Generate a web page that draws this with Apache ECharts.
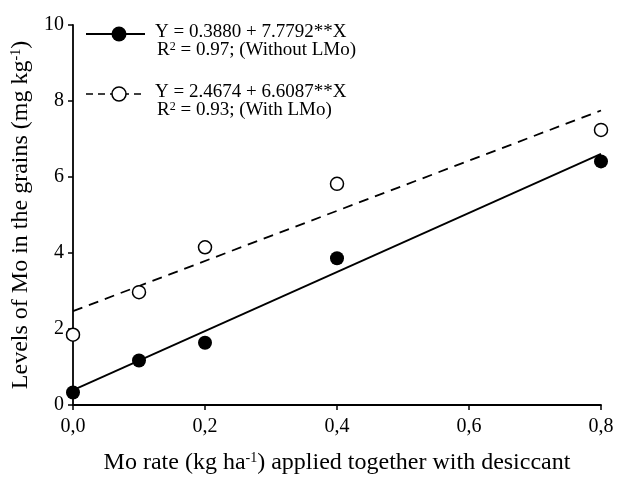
<!DOCTYPE html>
<html lang="en" style="height: 100%">
<head>
  <meta charset="utf-8">
</head>
<body style="height: 100%; margin: 0; background: #fff">
  <div id="container" style="width: 617px; height: 480px"></div>

  <script type="text/javascript" src="https://fastly.jsdelivr.net/npm/echarts@6/dist/echarts.min.js"></script>
  <script type="text/javascript">
    // Mo rate (kg/ha)
    var rates = [0, 0.1, 0.2, 0.4, 0.8];
    // Mo in grains
    var withoutLMo = [0.33, 1.17, 1.64, 3.86, 6.41];
    var withLMo = [1.85, 2.97, 4.15, 5.82, 7.24];
    // fitted lines, endpoints at x = 0 and x = 0.8
    var fitX = [0, 0.8];
    var fitWithout = [0.39, 6.61];
    var fitWith = [2.47, 7.75];

    var FONT = '"Liberation Serif", "Times New Roman", serif';

    function pairs(xs, ys) {
      return xs.map(function (x, i) { return [x, ys[i]]; });
    }

    var dom = document.getElementById('container');
    var myChart = echarts.init(dom, null, { renderer: 'canvas' });

    var axisCommon = {
      axisLine: { show: true, lineStyle: { color: '#000', width: 1.8 } },
      axisTick: { show: true, length: 5, lineStyle: { color: '#000', width: 1.5 } },
      splitLine: { show: false },
      axisLabel: { color: '#000', fontFamily: FONT, fontSize: 20 }
    };

    var titleRich = {
      n: { fontFamily: FONT, fontSize: 24, color: '#000' },
      s: { fontFamily: FONT, fontSize: 14, color: '#000', verticalAlign: 'top', lineHeight: 24 }
    };

    var option = {
      backgroundColor: '#fff',
      animation: false,
      grid: { left: 73, top: 25, right: 16, bottom: 75 },
      xAxis: Object.assign({}, axisCommon, {
        type: 'value',
        min: 0,
        max: 0.8,
        interval: 0.2,
        axisLabel: Object.assign({}, axisCommon.axisLabel, {
          margin: 12,
          formatter: function (v) { return v.toFixed(1).replace('.', ','); }
        }),
        name: '{n|Mo rate (kg ha}{s|-1}{n|) applied together with desiccant}',
        nameLocation: 'middle',
        nameGap: 46,
        nameTextStyle: { rich: titleRich }
      }),
      yAxis: Object.assign({}, axisCommon, {
        type: 'value',
        min: 0,
        max: 10,
        interval: 2,
        axisLabel: Object.assign({}, axisCommon.axisLabel, { margin: 9 }),
        name: '{n|Levels of Mo in the grains (mg kg}{s|-1}{n|)}',
        nameLocation: 'middle',
        nameGap: 38,
        nameTextStyle: { rich: titleRich }
      }),
      series: [
        {
          type: 'line',
          data: pairs(fitX, fitWithout),
          symbol: 'none',
          lineStyle: { color: '#000', width: 1.8 },
          z: 1
        },
        {
          type: 'line',
          data: pairs(fitX, fitWith),
          symbol: 'none',
          lineStyle: { color: '#000', width: 1.8, type: [10, 7] },
          z: 1
        },
        {
          type: 'scatter',
          data: pairs(rates, withoutLMo),
          symbol: 'circle',
          symbolSize: 14,
          itemStyle: { color: '#000', opacity: 1 },
          z: 3
        },
        {
          type: 'scatter',
          data: pairs(rates, withLMo),
          symbol: 'circle',
          symbolSize: 13,
          itemStyle: { color: '#fff', borderColor: '#000', borderWidth: 1.5, opacity: 1 },
          z: 3
        }
      ],
      graphic: [
        // key for the line without LMo
        { type: 'line', shape: { x1: 86, y1: 34, x2: 145, y2: 34 }, style: { stroke: '#000', lineWidth: 1.8 } },
        { type: 'circle', shape: { cx: 119, cy: 34, r: 7.5 }, style: { fill: '#000' } },
        {
          type: 'text', left: 155, top: 23,
          style: { text: 'Y = 0.3880 + 7.7792**X', font: '19px ' + FONT, fill: '#000' }
        },
        {
          type: 'text', left: 157, top: 41,
          style: {
            text: '{n|R}{s|2}{n| = 0.97; (Without LMo)}',
            rich: {
              n: { font: '19px ' + FONT, fill: '#000' },
              s: { font: '12px ' + FONT, fill: '#000', verticalAlign: 'top', lineHeight: 19 }
            }
          }
        },
        // key for the line with LMo
        { type: 'line', shape: { x1: 86, y1: 94, x2: 145, y2: 94 }, style: { stroke: '#000', lineWidth: 1.6, lineDash: [7, 5] } },
        { type: 'circle', shape: { cx: 119, cy: 94, r: 7 }, style: { fill: '#fff', stroke: '#000', lineWidth: 1.5 } },
        {
          type: 'text', left: 155, top: 83,
          style: { text: 'Y = 2.4674 + 6.6087**X', font: '19px ' + FONT, fill: '#000' }
        },
        {
          type: 'text', left: 157, top: 101,
          style: {
            text: '{n|R}{s|2}{n| = 0.93; (With LMo)}',
            rich: {
              n: { font: '19px ' + FONT, fill: '#000' },
              s: { font: '12px ' + FONT, fill: '#000', verticalAlign: 'top', lineHeight: 19 }
            }
          }
        }
      ]
    };

    myChart.setOption(option);
    window.addEventListener('resize', myChart.resize);
  </script>
</body>
</html>
